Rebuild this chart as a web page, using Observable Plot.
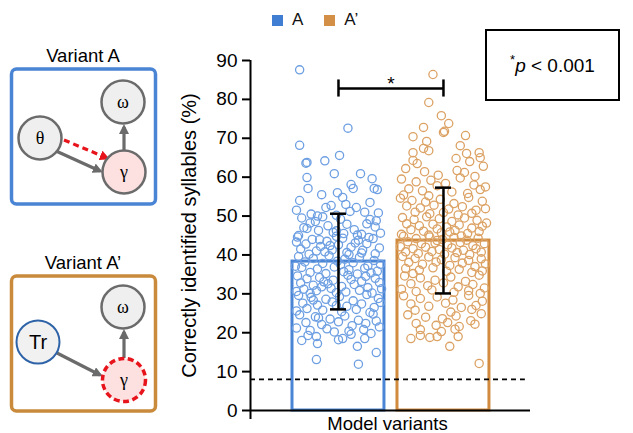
<!DOCTYPE html>
<html><head><meta charset="utf-8">
<script src="https://cdn.jsdelivr.net/npm/d3@7"></script>
<script src="https://cdn.jsdelivr.net/npm/@observablehq/plot@0.6"></script>
<style>
body{margin:0;background:#fff;font-family:"Liberation Sans",Arial,Helvetica,sans-serif;}
#wrap{position:relative;width:633px;height:433px;overflow:hidden;background:#fff;}
#wrap > *{position:absolute;}
.leg{display:flex;align-items:center;font-size:17px;color:#111;}
.sw{width:11px;height:11px;display:inline-block;margin-right:9px;}
#pbox{left:485px;top:29px;width:135px;height:72px;box-sizing:border-box;border:2px solid #000;display:flex;align-items:center;justify-content:center;font-size:19px;}
</style></head><body><div id="wrap"></div>
<script>
// ---------- data ----------
const categories = ["A", "A’"];
const means = [38.3, 43.7];
const sds = [12.3, 13.6];
const chanceLevel = [8];
const yTicks = [0, 10, 20, 30, 40, 50, 60, 70, 80, 90];
const significance = [{from: "A", to: "A’", y: 82.8, low: 80.6, label: "*"}];
const pNote = "p < 0.001";
const yTitle = "Correctly identified syllables (%)";
const xTitle = "Model variants";
// [jitter, value] pairs
const pointsA = [
[-0.37,87.6],[0.09,72.6],[-0.37,68.2],[0.01,65.6],[-0.30,63.8],[-0.31,63.6],[-0.13,64.2],[0.21,60.9],[-0.04,60.9],
[-0.30,59.9],[0.32,59.6],[-0.29,57.1],[0.12,58.1],[0.14,57.1],[0.34,57.1],[0.37,56.8],[-0.16,55.5],[-0.01,56.0],
[-0.37,54.0],[0.04,54.8],[0.07,53.0],[-0.12,52.2],[-0.07,52.7],[0.17,52.2],[-0.26,50.5],[0.25,51.0],[0.38,50.8],[-0.40,51.5],[-0.02,50.2],[0.30,53.5],[-0.20,50.0],[0.11,51.2],
[-0.35,49.5],[-0.22,48.6],[0.02,49.2],[0.27,48.0],[-0.10,47.5],[0.35,47.2],[-0.30,46.8],[0.15,46.5],[-0.05,45.8],[0.22,45.3],[-0.38,45.0],[0.40,45.6],[-0.15,49.8],[0.08,47.9],[-0.27,48.2],[0.30,49.1],[-0.02,46.2],[0.18,45.1],[-0.33,47.0],[0.05,45.5],[-0.19,46.3],[0.36,48.8],
[-0.39,44.6],[-0.25,44.0],[-0.11,43.5],[0.04,44.3],[0.19,43.8],[0.33,44.2],[-0.31,42.8],[-0.17,42.2],[0.00,42.6],[0.12,42.0],[0.27,42.9],[0.39,41.8],[-0.36,41.5],[-0.21,41.0],[-0.06,41.3],[0.08,40.6],[0.23,41.2],[0.35,40.3],[-0.28,40.2],[-0.13,40.8],[0.16,43.1],[-0.02,44.8],[0.29,44.5],[-0.40,43.3],[0.10,40.1],[-0.18,43.9],[0.22,40.5],[-0.08,42.4],
[-0.38,39.6],[-0.24,39.1],[-0.09,39.8],[0.06,38.9],[0.20,39.4],[0.34,38.6],[-0.32,38.2],[-0.15,37.8],[0.02,37.5],[0.14,38.0],[0.28,37.2],[0.40,37.6],[-0.35,36.8],[-0.20,36.4],[-0.04,36.9],[0.10,36.2],[0.25,36.6],[0.37,35.8],[-0.27,35.5],[-0.12,35.2],[0.05,35.7],[0.18,35.1],[0.31,35.4],[-0.41,37.1],[-0.01,38.4],
[-0.39,34.6],[-0.30,33.9],[-0.18,34.2],[-0.05,33.5],[0.09,34.8],[0.22,33.2],[0.35,34.0],[-0.36,32.8],[-0.24,32.2],[-0.10,32.6],[0.03,31.9],[0.15,32.4],[0.28,31.6],[0.39,32.9],[-0.33,31.2],[-0.21,30.8],[-0.07,31.4],[0.07,30.5],[0.20,30.9],[0.32,30.2],[-0.40,30.6],[-0.27,30.1],[-0.14,33.1],[0.12,33.7],[0.26,34.5],[-0.02,30.3],[0.41,31.3],[-0.16,31.8],
[-0.38,29.6],[-0.26,29.1],[-0.12,28.6],[0.01,29.3],[0.14,28.2],[0.27,29.8],[0.38,28.8],[-0.34,27.6],[-0.20,27.1],[-0.06,27.9],[0.08,26.8],[0.22,27.4],[0.34,26.5],[-0.30,26.2],[-0.15,25.8],[0.03,25.4],[0.17,26.0],[0.30,25.2],[-0.40,25.6],[-0.02,27.0],[0.40,27.8],[-0.24,28.4],
[-0.37,24.6],[-0.22,24.1],[-0.08,23.5],[0.06,24.3],[0.19,23.2],[0.33,24.8],[-0.31,22.6],[-0.16,22.1],[0.00,22.8],[0.13,21.8],[0.26,22.4],[0.39,21.5],[-0.40,21.2],[-0.27,20.6],[-0.11,21.0],[0.10,20.4],[0.24,20.8],[0.36,23.0],[-0.04,20.2],[-0.19,23.8],
[-0.29,19.3],[-0.21,19.0],[0.00,18.2],[0.04,18.5],[0.25,18.5],[-0.20,17.2],[0.12,19.6],[0.31,19.8],[-0.35,18.0],[0.18,16.5],
[-0.21,13.1],[0.19,11.9],[0.36,14.9]
];
const pointsAp = [
[-0.10,86.4],[-0.14,79.2],[-0.02,75.8],[0.05,73.8],[-0.19,72.8],[0.00,71.5],[0.01,71.8],[0.21,70.7],[-0.29,70.4],
[-0.16,69.2],[-0.19,67.4],[-0.14,66.8],[0.16,68.1],[-0.29,66.3],[0.34,66.3],[0.22,66.1],[0.35,65.0],
[0.12,64.8],[0.25,64.0],[-0.29,64.3],[-0.25,63.5],[-0.36,62.2],[-0.18,61.4],[0.13,61.7],[0.20,61.2],[0.38,62.8],[-0.05,60.5],[0.30,60.2],
[-0.40,59.5],[-0.26,58.8],[-0.12,59.2],[0.02,58.4],[0.16,59.8],[0.29,58.0],[0.40,57.5],[-0.33,57.0],[-0.20,56.5],[-0.06,57.8],[0.08,56.2],[0.23,55.8],[0.35,56.8],[-0.38,55.4],[-0.14,55.2],
[-0.41,54.6],[-0.30,54.0],[-0.17,53.6],[-0.03,54.3],[0.10,53.2],[0.24,54.8],[0.37,53.8],[-0.35,52.6],[-0.22,52.1],[-0.09,52.8],[0.05,51.8],[0.18,52.4],[0.31,51.5],[-0.27,51.0],[-0.13,50.6],[0.00,50.9],[0.14,50.3],[0.27,50.7],[0.40,51.9],
[-0.39,49.6],[-0.28,49.1],[-0.16,49.8],[-0.04,49.3],[0.08,48.6],[0.20,49.5],[0.32,48.9],[0.41,48.2],[-0.35,48.0],[-0.23,47.5],[-0.10,47.9],[0.03,47.2],[0.15,47.7],[0.27,46.9],[0.37,47.4],[-0.31,46.5],[-0.19,46.1],[-0.06,46.7],[0.06,45.9],[0.11,46.3],[0.23,45.5],[0.34,46.0],[-0.40,45.3],[-0.14,45.1],[-0.02,45.7],
[-0.38,44.8],[-0.26,44.2],[-0.13,44.6],[-0.01,44.0],[0.10,44.5],[0.22,43.8],[0.33,44.3],[-0.34,43.4],[-0.21,42.9],[-0.08,43.1],[0.04,42.6],[0.16,43.2],[0.28,42.4],[0.39,42.9],[-0.41,42.1],[-0.29,41.6],[-0.17,42.0],[-0.04,41.4],[0.08,41.8],[0.19,41.2],[0.31,41.6],[-0.36,40.8],[-0.24,40.4],[-0.11,40.9],[0.01,40.2],[0.13,40.6],[0.25,40.1],[0.36,40.7],[-0.06,43.7],[0.17,44.9],
[-0.39,39.6],[-0.27,39.1],[-0.14,39.5],[-0.02,38.8],[0.11,39.3],[0.24,38.6],[0.36,39.0],[-0.33,38.1],[-0.20,37.6],[-0.07,38.2],[0.06,37.3],[0.18,37.9],[0.30,37.0],[0.40,37.7],[-0.36,36.5],[-0.23,36.1],[-0.10,36.7],[0.03,35.8],[0.15,36.3],[0.27,35.5],[-0.29,35.2],[0.37,35.9],
[-0.37,34.6],[-0.22,34.1],[-0.08,33.5],[0.07,34.3],[0.21,33.2],[0.34,34.8],[-0.31,32.6],[-0.15,32.1],[0.00,32.8],[0.14,31.8],[0.28,32.4],[0.39,31.5],[-0.40,31.2],[-0.26,30.6],[-0.11,31.0],[0.10,30.4],[0.24,30.8],[0.35,30.1],
[-0.38,29.5],[-0.22,28.8],[-0.06,29.2],[0.09,28.4],[0.24,29.6],[0.37,28.1],[-0.31,27.4],[-0.14,26.8],[0.02,27.6],[0.17,26.5],[0.31,27.0],[-0.27,25.8],[0.07,25.3],[0.27,26.0],
[-0.34,24.6],[-0.17,24.0],[-0.01,23.6],[0.12,24.3],[0.26,23.1],[0.36,24.9],[-0.26,22.4],[-0.07,21.9],[0.04,22.6],[0.15,21.6],[0.30,22.2],[-0.22,20.8],[-0.02,20.3],[0.11,20.9],
[-0.31,18.5],[-0.22,19.3],[-0.13,18.8],[-0.06,19.0],[0.06,16.5],[0.14,19.0],
[0.34,12.1]
];

// ---------- styles ----------
const barColors = ["#4a84d4", "#d08b3e"];
const dotColors = ["#6d9fe2", "#dca264"];
const legendColors = ["#3f7ed3", "#d38f45"];
const barHalf = 0.438, capHalf = 0.076;
const xMin = -0.838, xMax = 1.829, chanceEnd = 1.78;
const pos = c => categories.indexOf(c);

const bars = categories.map((c, i) => ({cat: c, mean: means[i], sd: sds[i]}));
const dots = [
  ...pointsA.map(([j, v]) => ({cat: categories[0], j, v})),
  ...pointsAp.map(([j, v]) => ({cat: categories[1], j, v}))
];
const bracketEnds = significance.flatMap(s => [{x: s.from, y1: s.low, y2: s.y}, {x: s.to, y1: s.low, y2: s.y}]);

const chart = Plot.plot({
  width: 633, height: 433,
  marginTop: 60, marginBottom: 23, marginLeft: 250, marginRight: 103,
  x: {domain: [xMin, xMax], axis: null},
  y: {domain: [0, 90]},
  style: {fontFamily: '"Liberation Sans", Arial, Helvetica, sans-serif', fontSize: "19px", color: "#000", background: "transparent", overflow: "visible"},
  marks: [
    Plot.rect(bars, {x1: d => pos(d.cat) - barHalf, x2: d => pos(d.cat) + barHalf, y1: 0, y2: "mean",
      stroke: d => barColors[pos(d.cat)], strokeWidth: 3, fill: "none"}),
    Plot.dot(dots, {x: d => pos(d.cat) + d.j, y: "v", r: 4.1, stroke: d => dotColors[pos(d.cat)], strokeWidth: 1.3, fill: "none"}),
    Plot.ruleY(chanceLevel, {x1: xMin, x2: chanceEnd, strokeDasharray: "5,4", strokeWidth: 1.6, stroke: "#000"}),
    Plot.ruleX(bars, {x: d => pos(d.cat), y1: d => d.mean - d.sd, y2: d => d.mean + d.sd, strokeWidth: 2.5, stroke: "#000"}),
    Plot.ruleY(bars.flatMap(d => [{cat: d.cat, y: d.mean + d.sd}, {cat: d.cat, y: d.mean - d.sd}]),
      {x1: d => pos(d.cat) - capHalf, x2: d => pos(d.cat) + capHalf, y: "y", strokeWidth: 2.5, stroke: "#000"}),
    Plot.ruleY(significance, {x1: d => pos(d.from), x2: d => pos(d.to), y: "y", strokeWidth: 2.5, stroke: "#000"}),
    Plot.ruleX(bracketEnds, {x: d => pos(d.x), y1: "y1", y2: d => d.y2 + 2.2, strokeWidth: 2.5, stroke: "#000"}),
    Plot.text(significance, {x: d => (pos(d.from) + pos(d.to)) / 2, y: "y", text: "label", lineAnchor: "bottom", dy: 1, fontSize: 19}),
    Plot.ruleY([0], {strokeWidth: 2, stroke: "#000"}),
    Plot.ruleX([xMin], {y1: -2.3, y2: 90, strokeWidth: 2, stroke: "#000"}),
    Plot.axisY({ticks: yTicks, tickSize: 8, tickPadding: 5, strokeWidth: 2, fontSize: 19,
      label: null}),
    Plot.text([yTitle], {frameAnchor: "left", dx: -69, rotate: -90, textAnchor: "middle", lineAnchor: "top", fontSize: 20}),
    Plot.text([xTitle], {frameAnchor: "bottom", dx: -3, dy: 19, lineAnchor: "bottom", fontSize: 18.5})
  ]
});
chart.style.left = "0px"; chart.style.top = "0px";
const wrap = document.getElementById("wrap");
wrap.appendChild(chart);

// ---------- legend ----------
const leg = document.createElement("div");
leg.className = "leg";
leg.style.left = "272px"; leg.style.top = "10px";
leg.innerHTML = categories.map((c, i) =>
  `<span class="sw" style="background:${legendColors[i]}"></span><span style="margin-right:${i === 0 ? 21 : 0}px">${c}</span>`).join("");
wrap.appendChild(leg);

// ---------- p-value note ----------
const pb = document.createElement("div");
pb.id = "pbox";
pb.innerHTML = `<span><sup style="font-size:13px;position:relative;top:-1px">*</sup><i>p</i> &lt; 0.001</span>`;
wrap.appendChild(pb);

// ---------- model diagrams ----------
const svg = d3.select(wrap).append("svg").attr("width", 170).attr("height", 433).style("left", "0px").style("top", "0px");
const defs = svg.append("defs");
function marker(id, color) {
  defs.append("marker").attr("id", id).attr("viewBox", "0 0 10 10").attr("refX", 7).attr("refY", 5)
    .attr("markerWidth", 10).attr("markerHeight", 10).attr("markerUnits", "userSpaceOnUse").attr("orient", "auto")
    .append("path").attr("d", "M0,0 L10,5 L0,10 Z").attr("fill", color);
}
marker("ag", "#6b6b6b"); marker("ar", "#e8141c");
const grey = "#6b6b6b";
function panel(y0, title, color) {
  svg.append("text").attr("x", 83).attr("y", y0 - 7).attr("text-anchor", "middle").attr("font-size", 18.5)
    .attr("font-family", '"Liberation Sans", Arial, sans-serif').text(title);
  svg.append("rect").attr("x", 11.5).attr("y", y0).attr("width", 144).attr("height", 135).attr("rx", 5)
    .attr("fill", "#fff").attr("stroke", color).attr("stroke-width", 3.5);
}
function arrow(x1, y1, x2, y2, opts = {}) {
  svg.append("line").attr("x1", x1).attr("y1", y1).attr("x2", x2).attr("y2", y2)
    .attr("stroke", opts.color || grey).attr("stroke-width", opts.w || 3.2)
    .attr("stroke-dasharray", opts.dash || null).attr("marker-end", `url(#${opts.m || "ag"})`);
}
function node(cx, cy, label, o = {}) {
  svg.append("circle").attr("cx", cx).attr("cy", cy).attr("r", 21.5)
    .attr("fill", o.fill || "#efefef").attr("stroke", o.stroke || grey).attr("stroke-width", o.w || 2.5)
    .attr("stroke-dasharray", o.dash || null);
  svg.append("text").attr("x", cx).attr("y", cy).attr("dy", "0.35em").attr("text-anchor", "middle")
    .attr("font-size", o.fs || 18).attr("font-family", o.sans ? '"Liberation Sans", Arial, sans-serif' : '"Liberation Serif", "Times New Roman", serif')
    .text(label);
}
// Variant A
panel(69, "Variant A", "#4a84d4");
arrow(56, 151, 100, 171);
arrow(64, 140, 107, 158, {color: "#e8141c", dash: "6,4", m: "ar"});
arrow(124, 150, 124, 127);
node(123, 102, "ω");
node(40, 138, "θ");
node(124, 172, "γ", {fill: "#fde1e1"});
// Variant A'
panel(276, "Variant A’", "#c98a3c");
arrow(57, 353, 100, 375);
arrow(124, 358, 124, 332);
node(123, 307, "ω");
node(38, 342, "Tr", {stroke: "#2f63a8", w: 2, sans: true, fs: 20, fill: "#f1f1f1"});
node(124, 380, "γ", {fill: "#fde1e1", stroke: "#e8141c", w: 3.5, dash: "6,3.5"});
</script></body></html>
